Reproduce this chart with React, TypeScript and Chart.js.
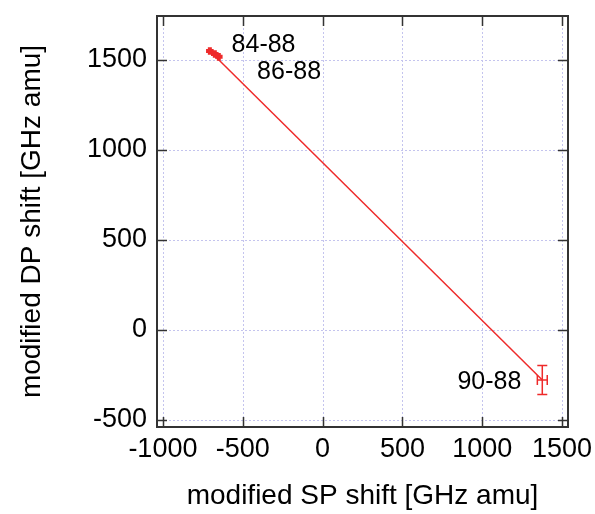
import React, { useEffect, useRef } from "react";
import { Chart, registerables } from "chart.js";

Chart.register(...registerables);

const labels = ["84-88", "86-88", "90-88"];
const spShift = [-706, -675, -650, 1376];
const dpShift = [1550, 1533, 1517, -278];
const spErr = [16, 16, 16, 31];
const dpErr = [14, 14, 14, 80];
const fitLine = [
  { x: -706, y: 1550 },
  { x: 1376, y: -278 },
];
const xTicks = [-1000, -500, 0, 500, 1000, 1500];
const yTicks = [-500, 0, 500, 1000, 1500];

const RED = "#ee2a2a";
const FONT = "Liberation Sans, Arial, sans-serif";

const framePlugin = {
  id: "frame",
  beforeDatasetsDraw(chart: any) {
    const { ctx, chartArea: a, scales } = chart;
    const xs = scales.x;
    const ys = scales.y;
    ctx.save();
    ctx.strokeStyle = "#c4c4ee";
    ctx.lineWidth = 1;
    ctx.setLineDash([2, 2]);
    xTicks.forEach((v) => {
      const px = Math.round(xs.getPixelForValue(v)) + 0.5;
      ctx.beginPath();
      ctx.moveTo(px, a.top);
      ctx.lineTo(px, a.bottom);
      ctx.stroke();
    });
    yTicks.forEach((v) => {
      const py = Math.round(ys.getPixelForValue(v)) + 0.5;
      ctx.beginPath();
      ctx.moveTo(a.left, py);
      ctx.lineTo(a.right, py);
      ctx.stroke();
    });
    ctx.restore();
  },
  afterDatasetsDraw(chart: any) {
    const { ctx, chartArea: a, scales } = chart;
    const xs = scales.x;
    const ys = scales.y;
    ctx.save();
    ctx.strokeStyle = RED;
    for (let i = 0; i < spShift.length; i++) {
      const cx = xs.getPixelForValue(spShift[i]);
      const cy = ys.getPixelForValue(dpShift[i]);
      const x0 = xs.getPixelForValue(spShift[i] - spErr[i]);
      const x1 = xs.getPixelForValue(spShift[i] + spErr[i]);
      const y0 = ys.getPixelForValue(dpShift[i] - dpErr[i]);
      const y1 = ys.getPixelForValue(dpShift[i] + dpErr[i]);
      const cap = i < 3 ? 2 : 5;
      ctx.lineWidth = i < 3 ? 2.5 : 1.5;
      ctx.beginPath();
      ctx.moveTo(x0, cy);
      ctx.lineTo(x1, cy);
      ctx.moveTo(cx, y0);
      ctx.lineTo(cx, y1);
      ctx.moveTo(x0, cy - cap);
      ctx.lineTo(x0, cy + cap);
      ctx.moveTo(x1, cy - cap);
      ctx.lineTo(x1, cy + cap);
      ctx.moveTo(cx - cap, y0);
      ctx.lineTo(cx + cap, y0);
      ctx.moveTo(cx - cap, y1);
      ctx.lineTo(cx + cap, y1);
      ctx.stroke();
    }
    ctx.strokeStyle = "#333333";
    ctx.lineWidth = 2;
    ctx.strokeRect(a.left, a.top, a.right - a.left, a.bottom - a.top);
    ctx.lineWidth = 1.5;
    const tl = 10;
    ctx.beginPath();
    xTicks.forEach((v) => {
      const px = Math.round(xs.getPixelForValue(v)) + 0.5;
      ctx.moveTo(px, a.bottom);
      ctx.lineTo(px, a.bottom - tl);
      ctx.moveTo(px, a.top);
      ctx.lineTo(px, a.top + tl);
    });
    yTicks.forEach((v) => {
      const py = Math.round(ys.getPixelForValue(v)) + 0.5;
      ctx.moveTo(a.left, py);
      ctx.lineTo(a.left + tl, py);
      ctx.moveTo(a.right, py);
      ctx.lineTo(a.right - tl, py);
    });
    ctx.stroke();
    ctx.fillStyle = "#000";
    ctx.font = `25px ${FONT}`;
    ctx.textBaseline = "middle";
    ctx.textAlign = "left";
    ctx.fillText(labels[0], xs.getPixelForValue(-570), ys.getPixelForValue(1585));
    ctx.fillText(labels[1], xs.getPixelForValue(-410), ys.getPixelForValue(1433));
    ctx.textAlign = "right";
    ctx.fillText(labels[2], xs.getPixelForValue(1245), ys.getPixelForValue(-290));
    ctx.restore();
  },
};

export default function App() {
  const ref = useRef<HTMLCanvasElement>(null);
  useEffect(() => {
    document.body.style.margin = "0";
    const canvas = ref.current!;
    const points = spShift.map((x, i) => ({ x, y: dpShift[i] }));
    const chart = new Chart(canvas, {
      type: "scatter",
      data: {
        datasets: [
          {
            type: "line",
            data: fitLine,
            borderColor: RED,
            borderWidth: 1.5,
            pointRadius: 0,
            fill: false,
          } as any,
          {
            data: points,
            pointRadius: 0,
            borderColor: RED,
            backgroundColor: RED,
          },
        ],
      },
      plugins: [framePlugin],
      options: {
        animation: false,
        responsive: false,
        devicePixelRatio: 1,
        layout: { padding: { top: 16, right: 27, left: 0, bottom: 0 } },
        plugins: { legend: { display: false }, tooltip: { enabled: false } },
        scales: {
          x: {
            type: "linear",
            min: -1037,
            max: 1537,
            afterBuildTicks: (s: any) => {
              s.ticks = xTicks.map((v) => ({ value: v }));
            },
            afterFit: (s: any) => {
              s.height = 87;
              s.paddingLeft = 0;
              s.paddingRight = 0;
            },
            grid: { display: false, drawTicks: false },
            border: { display: false },
            ticks: {
              color: "#000",
              padding: 6,
              font: { family: FONT, size: 27 },
              maxRotation: 0,
              autoSkip: false,
              callback: (v: any) => String(v),
            },
            title: {
              display: true,
              text: "modified SP shift [GHz amu]",
              color: "#000",
              font: { family: FONT, size: 28 },
              padding: { top: 0, bottom: 1 },
            },
          },
          y: {
            type: "linear",
            min: -539,
            max: 1744,
            afterBuildTicks: (s: any) => {
              s.ticks = yTicks.map((v) => ({ value: v }));
            },
            afterFit: (s: any) => {
              s.width = 157;
              s.paddingTop = 0;
              s.paddingBottom = 0;
            },
            grid: { display: false, drawTicks: false },
            border: { display: false },
            ticks: {
              color: "#000",
              padding: 10,
              font: { family: FONT, size: 27 },
              autoSkip: false,
              callback: (v: any) => String(v),
            },
            title: {
              display: true,
              text: "modified DP shift [GHz amu]",
              color: "#000",
              font: { family: FONT, size: 28 },
              padding: { top: 15, bottom: 0 },
            },
          },
        },
      },
    });
    return () => chart.destroy();
  }, []);
  return <canvas ref={ref} width={595} height={514} style={{ display: "block" }} />;
}
